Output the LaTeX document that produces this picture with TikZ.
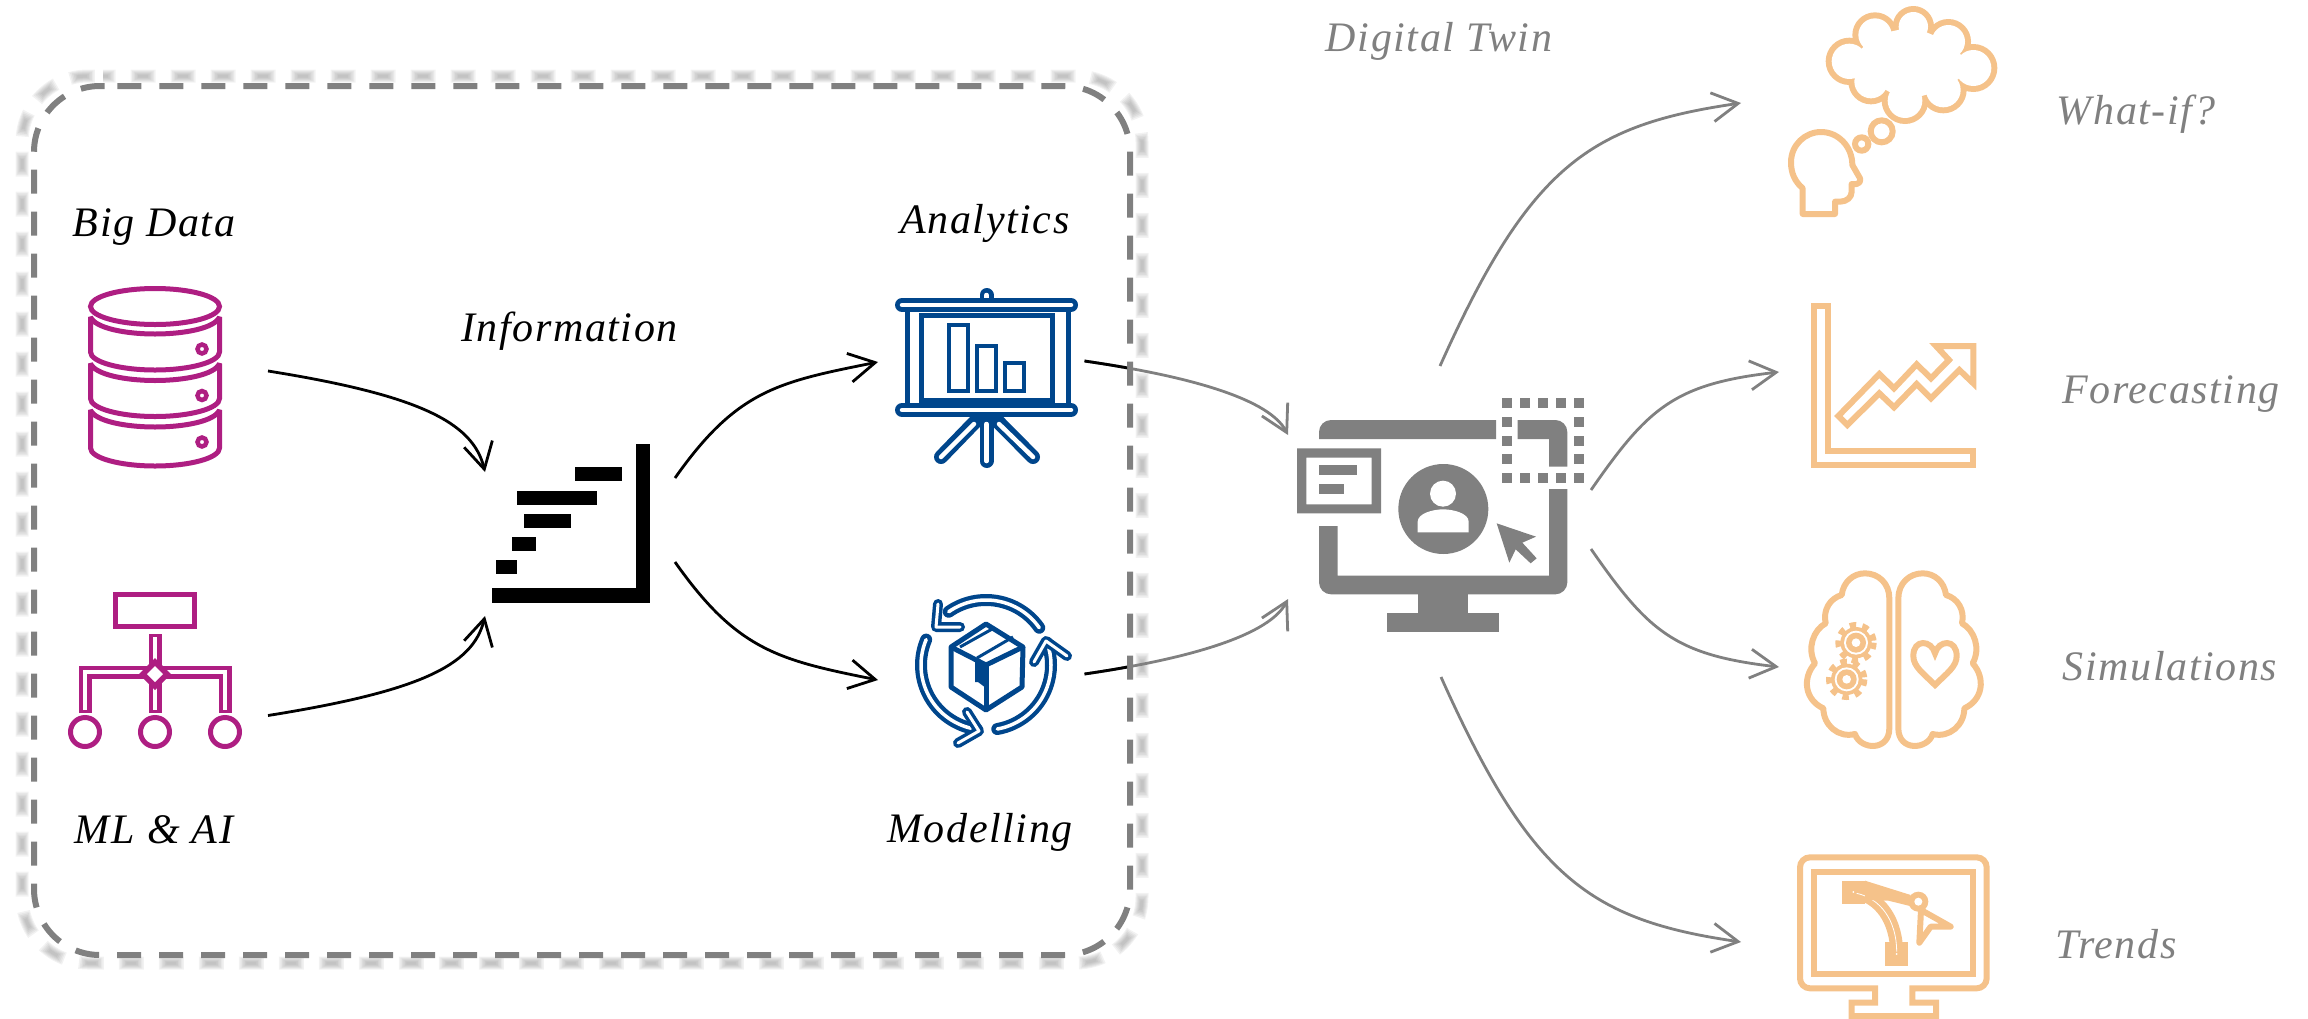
\documentclass[tikz,border=0pt]{standalone}
\usepackage{fontspec}
\setmainfont[LetterSpace=3.8]{Liberation Serif}
\usepackage{xcolor}
\usepackage{tikz}
\usetikzlibrary{arrows.meta}
\definecolor{twin_gray}{HTML}{808080}
\definecolor{data_magenta}{HTML}{AE1E82}
\definecolor{model_blue}{HTML}{00468C}
\definecolor{use_peach}{HTML}{F5C28A}
\tikzset{
    label_text/.style = {align=center, inner sep=0pt, anchor=base, font=\fontsize{42}{50}\selectfont\itshape},
    grey_text/.style = {label_text, text=twin_gray},
    flow/.style = {->, line width=2.8pt, black},
    grey_flow/.style = {->, line width=2.8pt, twin_gray},
    data_line/.style = {draw=data_magenta, line width=5pt},
    model_line/.style = {draw=model_blue, line width=5pt},
    use_line/.style = {draw=use_peach, line width=6pt},
    blue_rod/.style = {draw=model_blue, line width=14pt, line cap=round, line join=round},
    white_rod/.style = {draw=white, line width=4.5pt, line cap=round, line join=round},
    pipe_out/.style = {draw=data_magenta, line width=13pt},
    pipe_in/.style = {draw=white, line width=4pt}
}
\begin{document}
\begin{tikzpicture}
            [x=1pt, y=-1pt, >={Straight Barb[length=26pt,width=29pt]}]
    \useasboundingbox (0,0) rectangle (2308,1018);

    % blurred copy of the frame, then the frame
    \foreach \dashlen/\wid in {25/13, 22/11, 19/9, 16/7, 13/5, 10/3} {
        \pgfmathsetmacro{\gaplen}{40-\dashlen}
        \pgfmathsetmacro{\halflen}{\dashlen/2}
        \draw [twin_gray, opacity=0.1, line width=\wid pt, rounded corners=66pt,
               dash pattern=on \dashlen pt off \gaplen pt, dash phase=\halflen pt]
            (103,76) -- (1142,76) -- (1142,963) -- (22,963) -- (22,76) -- (103,76);
    }
    \draw [twin_gray, line width=6pt, rounded corners=66pt, dash pattern=on 24pt off 18pt]
        (117.3,86) -- (1130,86) -- (1130,955) -- (34,955) -- (34,86) -- (117.3,86);

    % labels
    \node (big_data) [label_text] at (154,236) {Big Data};
    \node (ml_ai) [label_text] at (154,843) {ML \& AI};
    \node (information) [label_text] at (569.5,341) {Information};
    \node (analytics) [label_text] at (985,233) {Analytics};
    \node (modelling) [label_text] at (980,842) {Modelling};
    \node (digital_twin) [grey_text] at (1439,51) {Digital Twin};
    \node (what_if) [grey_text] at (2136,124) {What-if?};
    \node (forecasting) [grey_text] at (2171,403) {Forecasting};
    \node (simulations) [grey_text] at (2170,680) {Simulations};
    \node (trends) [grey_text] at (2116,958) {Trends};

    % connector ends
    \coordinate (big_data_out) at (268,371);
    \coordinate (ml_ai_out) at (268,715.5);
    \coordinate (info_in_top) at (485,472);
    \coordinate (info_in_bottom) at (485,616);
    \coordinate (info_out_top) at (675,478);
    \coordinate (info_out_bottom) at (675,562);
    \coordinate (analytics_in) at (878,362);
    \coordinate (modelling_in) at (878,680);
    \coordinate (analytics_out) at (1084.5,361);
    \coordinate (modelling_out) at (1084.5,674);
    \coordinate (twin_in_top) at (1288,435);
    \coordinate (twin_in_bottom) at (1288,599);
    \coordinate (twin_out_a) at (1440,366);
    \coordinate (twin_out_b) at (1591,490);
    \coordinate (twin_out_c) at (1591,549);
    \coordinate (twin_out_d) at (1441,677);
    \coordinate (what_if_in) at (1741,103);
    \coordinate (forecasting_in) at (1779,372);
    \coordinate (simulations_in) at (1779,667);
    \coordinate (trends_in) at (1741,942);

    \draw [flow] (big_data_out) .. controls +(150,24) and +(-12,-50) .. (info_in_top);
    \draw [flow] (ml_ai_out) .. controls +(150,-24) and +(-12,50) .. (info_in_bottom);
    \draw [flow] (info_out_top) .. controls +(62,-88) and +(-100,20) .. (analytics_in);
    \draw [flow] (info_out_bottom) .. controls +(62,88) and +(-100,-20) .. (modelling_in);
    \draw [grey_flow] (analytics_out) .. controls +(110,16) and +(-18,-35) .. (twin_in_top);
    \draw [grey_flow] (modelling_out) .. controls +(110,-16) and +(-18,35) .. (twin_in_bottom);
    \begin{scope}
        \clip (1070,300) rectangle (1127,720);
        \draw [line width=2.8pt] (analytics_out) .. controls +(110,16) and +(-18,-35) .. (twin_in_top);
        \draw [line width=2.8pt] (modelling_out) .. controls +(110,-16) and +(-18,35) .. (twin_in_bottom);
    \end{scope}
    \draw [grey_flow] (twin_out_a) .. controls +(90,-201) and +(-151,22) .. (what_if_in);
    \draw [grey_flow] (twin_out_b) .. controls +(57,-82) and +(-105,12) .. (forecasting_in);
    \draw [grey_flow] (twin_out_c) .. controls +(57,82) and +(-105,-12) .. (simulations_in);
    \draw [grey_flow] (twin_out_d) .. controls +(90,201) and +(-151,-22) .. (trends_in);

    % database
    \draw [data_line] (155,306.5) circle [x radius=64.5, y radius=18];
    \foreach \y/\s in {0/0, 46.5/0, 93/3} {
        \begin{scope}[shift={(0,\y)}]
            \draw [data_line, miter limit=2]
                (90.5,317) .. controls (95,328) and (125,334) .. (155,334)
                .. controls (185,334) and (215,328) .. (219.5,317)
                -- (219.5,352+\s) .. controls (219.5,362+\s) and (190,370+\s) .. (155,370+\s)
                .. controls (120,370+\s) and (90.5,362+\s) .. (90.5,352+\s) -- cycle;
            \draw [data_line, line width=4.5pt] (202,349) circle [radius=4.5];
        \end{scope}
    }

    % network
    \draw [data_line] (115.5,594.5) rectangle (194.5,626.5);
    \draw [pipe_out] (155,634) -- (155,713);
    \draw [pipe_out] (85,713) -- (85,672) -- (225,672) -- (225,713);
    \draw [pipe_in] (155,637) -- (155,710);
    \draw [pipe_in] (85,710) -- (85,672) -- (225,672) -- (225,710);
    \fill [data_magenta] (155,658) -- (171,674) -- (155,690) -- (139,674) -- cycle;
    \fill [white] (155,666) -- (163,674) -- (155,682) -- (147,674) -- cycle;
    \foreach \x in {85, 155, 225} {
        \draw [data_line] (\x,732) circle [radius=14.5];
    }

    % information
    \fill (636,444) rectangle (650,602.5);
    \fill (491.5,588) rectangle (650,602.5);
    \fill (575,467) rectangle (622,481);
    \fill (517,491) rectangle (597,505);
    \fill (524,514) rectangle (571,528);
    \fill (512,537) rectangle (536,551);
    \fill (496,560) rectangle (517,574);

    % analytics
    \draw [blue_rod] (986.5,295) -- (986.5,300);
    \draw [white_rod] (986.5,295) -- (986.5,302);
    \draw [model_line] (907,310) -- (907,405);
    \draw [model_line] (1068,310) -- (1068,405);
    \draw [model_line] (921.5,315.5) rectangle (1052.5,400.5);
    \draw [model_line, line width=4.5pt] (949,325) rectangle (968,391);
    \draw [model_line, line width=4.5pt] (977,346) rectangle (996,391);
    \draw [model_line, line width=4.5pt] (1005,363) rectangle (1024,391);
    \draw [blue_rod] (986.5,410) -- (941,457);
    \draw [blue_rod] (986.5,410) -- (986.5,461);
    \draw [blue_rod] (986.5,410) -- (1033,457);
    \draw [white_rod] (974,424) -- (941,457);
    \draw [white_rod] (986.5,424) -- (986.5,461);
    \draw [white_rod] (999,424) -- (1033,457);
    \draw [blue_rod] (902,305) -- (1071,305);
    \draw [white_rod] (902,305) -- (1071,305);
    \draw [blue_rod] (902,410) -- (1071,410);
    \draw [white_rod] (902,410) -- (1071,410);

    % modelling
    \begin{scope}[shift={(986,665)}, y=1pt]
        \draw [blue_rod, line width=12pt] (35:65) arc [start angle=35, end angle=125, radius=65];
        \draw [blue_rod, line width=12pt] (-80:65) arc [start angle=-80, end angle=20, radius=65];
        \draw [blue_rod, line width=12pt] (157:65) arc [start angle=157, end angle=262, radius=65];
        \draw [white_rod, line width=3.5pt] (35:65) arc [start angle=35, end angle=125, radius=65];
        \draw [white_rod, line width=3.5pt] (-80:65) arc [start angle=-80, end angle=20, radius=65];
        \draw [white_rod, line width=3.5pt] (157:65) arc [start angle=157, end angle=262, radius=65];
    \end{scope}
    \draw [blue_rod, line width=10pt] (938,604) -- (936,627) -- (960,627);
    \draw [white_rod, line width=3pt] (938,604) -- (936,627) -- (960,627);
    \draw [blue_rod, line width=10pt] (1034,662) -- (1046,641) -- (1067,656);
    \draw [white_rod, line width=3pt] (1034,662) -- (1046,641) -- (1067,656);
    \draw [blue_rod, line width=10pt] (967,712) -- (979,731) -- (958,743);
    \draw [white_rod, line width=3pt] (967,712) -- (979,731) -- (958,743);
    \draw [model_line, line join=round] (986,624) -- (1023,647) -- (1022,687) -- (986,710)
        -- (951,687) -- (951,647) -- cycle;
    \draw [model_line, line join=round] (951,647) -- (986,665) -- (1023,647);
    \draw [model_line] (986,665) -- (986,710);
    \draw [model_line, line width=3pt] (960,647) -- (994,628);
    \draw [model_line, line width=3pt] (977,658) -- (1013,637);
    \fill [model_blue] (975,659) -- (986,665) -- (986,688) -- (978,682) -- (975,682) -- cycle;

    % digital twin screen
    \begin{scope}[shift={(1270,380)}, scale=1/3]
        \fill [twin_gray] (147,177) [rounded corners=12pt] -- (147,120) [sharp corners] -- (678,120) -- (678,177) -- cycle;
        \fill [twin_gray] (743,177) -- (743,120) [rounded corners=12pt] -- (892,120) [sharp corners] -- (892,260) -- (837,260) -- (837,177) -- cycle;
        \fill [twin_gray] (837,327) -- (892,327) [rounded corners=12pt] -- (892,643) -- (147,643) [sharp corners] -- (147,438) -- (203,438) -- (203,587) -- (837,587) -- cycle;
        \fill [twin_gray] (445,640) rectangle (594,700);
        \fill [twin_gray] (352,700) rectangle (688,755);
        \fill [twin_gray, even odd rule] (81,205) rectangle (333,400) (109,233) rectangle (305,373);
        \fill [twin_gray] (147,255) rectangle (261,285);
        \fill [twin_gray] (147,312) rectangle (222,342);
        \fill [twin_gray] (520,387) circle [radius=135];
        \fill [white] (519,341) circle [radius=39];
        \fill [white] (443,457) -- (443,425) .. controls (443,400) and (490,388) .. (519,388)
            .. controls (550,388) and (596,400) .. (596,425) -- (596,457) -- cycle;
        \fill [twin_gray] (680,430) -- (798,470) -- (757,488) -- (800,535) -- (782,550)
            -- (737,508) -- (718,548) -- cycle;
        \foreach \x in {696, 750, 804, 858, 912} {
            \fill [twin_gray] (\x,54) rectangle +(30,30);
            \fill [twin_gray] (\x,279) rectangle +(30,30);
        }
        \foreach \y in {111, 168, 222} {
            \fill [twin_gray] (696,\y) rectangle +(30,30);
            \fill [twin_gray] (912,\y) rectangle +(30,30);
        }
    \end{scope}

    % what-if and forecasting
    \begin{scope}[shift={(1760,0)}, scale=1/3]
        \foreach \cx/\cy/\r in {345/105/68, 460/80/62, 565/125/68, 640/204/72, 550/270/70, 435/302/70, 333/245/68, 268/184/71} {
            \fill [use_peach] (\cx,\cy) circle [radius=\r];
        }
        \foreach \cx/\cy/\r in {345/105/68, 460/80/62, 565/125/68, 640/204/72, 550/270/70, 435/302/70, 333/245/68, 268/184/71} {
            \fill [white] (\cx,\cy) circle [radius=\r-18];
        }
        \fill [white] (345,105) -- (460,80) -- (565,125) -- (640,204) -- (550,270) -- (435,302) -- (333,245) -- (268,184) -- cycle;
        \draw [use_line] (365,394) circle [radius=33];
        \draw [use_line] (305,432) circle [radius=20];
        \draw [use_line, line join=round] (128,642) -- (128,565) .. controls (105,545) and (93,520) .. (93,487)
            .. controls (93,435) and (135,396) .. (183,396) .. controls (235,396) and (277,440) .. (277,495)
            -- (300,535) .. controls (302,545) and (297,552) .. (290,552) -- (275,552) -- (275,575)
            .. controls (275,592) and (260,605) .. (240,605) -- (225,605) -- (225,642) -- cycle;
        \draw [use_line] (162,919) -- (205,919) -- (205,1353) -- (640,1353) -- (640,1395) -- (162,1395) -- cycle;
        \draw [use_line] (235,1248) -- (358,1122) -- (402,1165) -- (470,1093) -- (513,1135) -- (567,1080)
            -- (528,1038) -- (640,1038) -- (640,1150) -- (598,1110) -- (513,1195) -- (470,1152)
            -- (402,1222) -- (358,1180) -- (262,1275) -- cycle;
    \end{scope}

    % simulations and trends
    \begin{scope}[shift={(1760,550)}, scale=1/3]
        \draw [use_line, line join=round] (388,145) .. controls (388,100) and (355,70) .. (315,70)
            .. controls (280,70) and (250,95) .. (245,135) .. controls (210,145) and (188,180) .. (197,220)
            .. controls (160,240) and (140,295) .. (165,340) .. controls (125,385) and (135,450) .. (190,475)
            .. controls (190,525) and (235,565) .. (285,552) .. controls (300,600) and (388,605) .. (388,535) -- cycle;
        \draw [use_line, line join=round] (415,145) .. controls (415,100) and (448,70) .. (488,70)
            .. controls (523,70) and (553,95) .. (558,135) .. controls (593,145) and (615,180) .. (606,220)
            .. controls (643,240) and (663,295) .. (638,340) .. controls (678,385) and (668,450) .. (613,475)
            .. controls (613,525) and (568,565) .. (518,552) .. controls (503,600) and (415,605) .. (415,535) -- cycle;
        \draw [use_line] (525,405) .. controls (490,370) and (460,350) .. (460,318)
            .. controls (460,265) and (515,270) .. (525,310) .. controls (535,270) and (590,265) .. (590,318)
            .. controls (590,350) and (560,370) .. (525,405) -- cycle;
        \foreach \gx/\gy in {288/278, 260/388} {
            \fill [use_peach] (\gx,\gy) circle [radius=47];
            \draw [use_peach, line width=6pt, dash pattern=on 6.4pt off 6.4pt] (\gx,\gy) circle [radius=53];
            \fill [white] (\gx,\gy) circle [radius=36];
            \fill [use_peach] (\gx,\gy) circle [radius=30];
            \fill [white] (\gx,\gy) circle [radius=13];
        }
        \draw [use_line] (345,1315) [rounded corners=10pt] -- (120,1315) -- (120,922) -- (680,922) -- (680,1315) [sharp corners] -- (457,1315)
            -- (457,1358) -- (528,1358) -- (528,1398) -- (275,1398) -- (275,1358) -- (345,1358) -- cycle;
        \draw [use_line] (162,965) rectangle (640,1273);
        \fill [use_peach] (245,992) rectangle (315,1062);
        \fill [use_peach] (375,1177) rectangle (445,1247);
        \draw [use_peach, line width=13pt] (280,1026) .. controls (360,1040) and (410,1110) .. (410,1212);
        \draw [white, line width=0.8pt] (290,1030) .. controls (360,1045) and (410,1110) .. (410,1205);
        \fill [use_peach] (315,992) -- (452,1035) -- (450,1068) -- (385,1052) -- (315,1050) -- cycle;
        \fill [use_peach] (475,1055) circle [radius=30];
        \fill [white] (475,1055) circle [radius=12];
        \fill [white] (280,1026) circle [radius=3];
        \fill [white] (410,1212) circle [radius=3];
        \draw [use_line, line join=round] (483,1080) -- (572,1130) -- (512,1130) -- (478,1178) -- cycle;
    \end{scope}
\end{tikzpicture}
\end{document}
